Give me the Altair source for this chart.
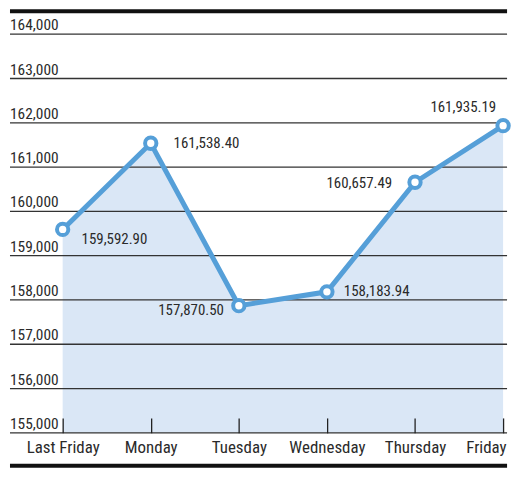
import json
import altair as alt
import pandas as pd

# ---- data ----
DAYS = ["Last Friday", "Monday", "Tuesday", "Wednesday", "Thursday", "Friday"]
VALUES = [159592.90, 161538.40, 157870.50, 158183.94, 160657.49, 161935.19]
Y_TICKS = [155000, 156000, 157000, 158000, 159000, 160000, 161000, 162000, 163000, 164000]

# ---- style ----
W, H = 500, 401
BLUE = "#559fd8"
FILL = "#dae7f6"
FONT = "Liberation Sans Narrow, Roboto Condensed, Arial Narrow, Liberation Sans, sans-serif"
TXT = "#2a2a2a"
# label offsets (dx, dy, align) for each point label
LABEL_STYLE = [(19, 10, "left"), (23, 0, "left"), (-15, 4, "right"),
               (17, -1, "left"), (-23, 1, "right"), (-7, -19, "right")]

df = pd.DataFrame({
    "idx": list(range(len(DAYS))),
    "day": DAYS,
    "value": VALUES,
    "label": [f"{v:,.2f}" for v in VALUES],
})
grid_df = pd.DataFrame({"tick": Y_TICKS, "tlabel": [f"{t:,}" for t in Y_TICKS]})

xscale = alt.Scale(domain=[-0.598, 5.045], nice=False, zero=False)
yscale = alt.Scale(domain=[155000, 164000], nice=False, zero=False)

label_expr = json.dumps(DAYS) + "[datum.value]"
last = len(DAYS) - 1

x_enc = alt.X(
    "idx:Q", scale=xscale,
    axis=alt.Axis(
        values=list(range(len(DAYS))), labelExpr=label_expr, title=None,
        grid=False, domain=False, offset=-15, tickSize=15, tickColor="#222",
        tickWidth=1.3, labelPadding=7, labelFont=FONT, labelFontSize=17,
        labelColor=TXT, zindex=1,
        labelAlign={"condition": {"test": f"datum.value == {last}", "value": "right"}, "value": "center"},
        labelOffset={"condition": {"test": f"datum.value == {last}", "value": 3}, "value": 0},
    ),
)

base = alt.Chart(df)

area = base.mark_area(color=FILL, opacity=1).encode(
    x=x_enc,
    y=alt.Y("value:Q", scale=yscale, axis=None),
    y2=alt.datum(155000),
)

grid = alt.Chart(grid_df).mark_rule(color="#333333", strokeWidth=1.3).encode(
    y=alt.Y("tick:Q", scale=yscale, axis=None),
    x=alt.value(0), x2=alt.value(W),
)

ylabels = alt.Chart(grid_df).mark_text(
    align="left", baseline="alphabetic", dy=-4,
    font=FONT, fontSize=15.5, color=TXT,
).encode(
    y=alt.Y("tick:Q", scale=yscale, axis=None),
    x=alt.value(0),
    text="tlabel:N",
)

line = base.mark_line(color=BLUE, strokeWidth=5).encode(
    x=alt.X("idx:Q", scale=xscale),
    y=alt.Y("value:Q", scale=yscale),
)

points = base.mark_point(
    shape="circle", size=130, filled=True, fill="white", stroke=BLUE,
    strokeWidth=4, opacity=1,
).encode(
    x=alt.X("idx:Q", scale=xscale),
    y=alt.Y("value:Q", scale=yscale),
)

label_layers = []
for i, (dx, dy, align) in enumerate(LABEL_STYLE):
    label_layers.append(
        base.transform_filter(alt.datum.idx == i).mark_text(
            align=align, baseline="middle", dx=dx, dy=dy,
            font=FONT, fontSize=15, color=TXT,
        ).encode(
            x=alt.X("idx:Q", scale=xscale),
            y=alt.Y("value:Q", scale=yscale),
            text="label:N",
        )
    )

bar_df = pd.DataFrame({"a": [0]})
top_bar = alt.Chart(bar_df).mark_rule(color="#111111", strokeWidth=4).encode(
    x=alt.value(0), x2=alt.value(W), y=alt.value(-23),
)
bottom_bar = alt.Chart(bar_df).mark_rule(color="#111111", strokeWidth=4).encode(
    x=alt.value(0), x2=alt.value(W), y=alt.value(434),
)

chart = alt.layer(
    area, grid, ylabels, line, points, *label_layers, top_bar, bottom_bar
).properties(
    width=W, height=H, padding=0, background="white",
).configure_view(stroke=None)

chart.save("out.html", embed_options={"renderer": "svg", "actions": False})
